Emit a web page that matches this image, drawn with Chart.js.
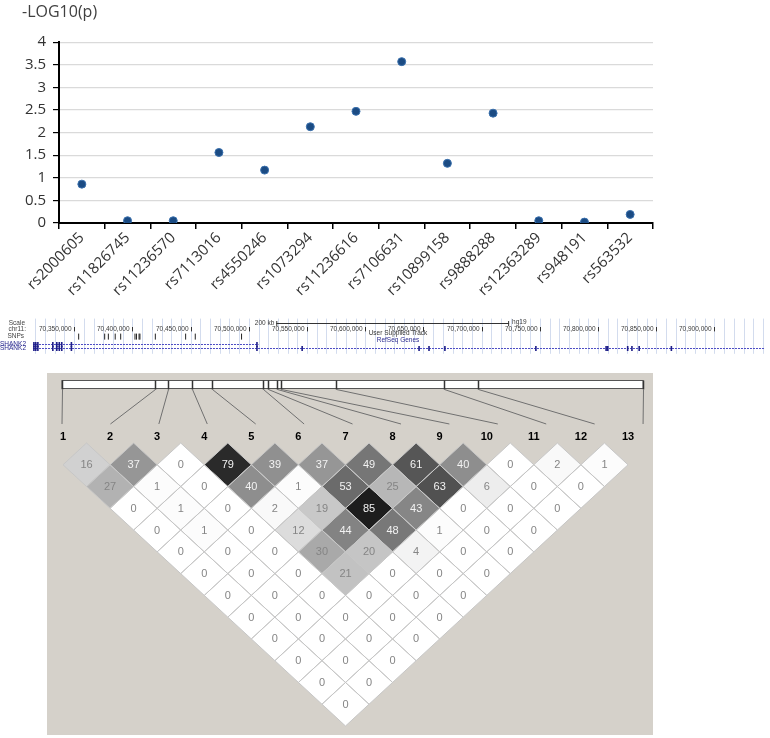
<!DOCTYPE html>
<html>
<head>
<meta charset="utf-8">
<script src="https://cdn.jsdelivr.net/npm/chart.js@4.4.1/dist/chart.umd.min.js"></script>
<style>
  body { margin: 0; background: #fff; width: 770px; height: 738px; position: relative; overflow: hidden; }
  .panel { position: absolute; }
  #ldBox { background: #d5d1ca; }
</style>
</head>
<body>
<div class="panel" style="left:0;top:0;width:770px;height:310px"><canvas id="assoc" width="770" height="310"></canvas></div>
<div class="panel" style="left:0;top:312px;width:770px;height:50px"><canvas id="track" width="770" height="50"></canvas></div>
<div class="panel" id="ldBox" style="left:47px;top:373px;width:606px;height:362px"><canvas id="ld" width="606" height="362"></canvas></div>
<script>
// association plot
const snpNames = ['rs2000605', 'rs11826745', 'rs11236570', 'rs7113016', 'rs4550246', 'rs1073294', 'rs11236616',
  'rs7106631', 'rs10899158', 'rs9888288', 'rs12363289', 'rs948191', 'rs563532'];
const logP = [0.86, 0.05, 0.05, 1.56, 1.17, 2.13, 2.47, 3.57, 1.32, 2.43, 0.05, 0.02, 0.19];
const yTicks = [0, 0.5, 1, 1.5, 2, 2.5, 3, 3.5, 4];

// genome browser strip (hg19, chr11)
const rulerTicks = [70350000, 70400000, 70450000, 70500000, 70550000, 70600000,
  70650000, 70700000, 70750000, 70800000, 70850000, 70900000];
const snpPos = [70353840, 70376190, 70379350, 70385240, 70389930, 70402220, 70403500,
  70405720, 70406480, 70419710, 70445730, 70454010, 70493770];
const shortTxSpan = [70314600, 70508300];
const longTxSpan = [70314600, 70943400];
const shortTxExons = [70315400, 70317000, 70318800, 70331650, 70335070, 70337200, 70339330, 70347610, 70507000];
const longTxExons = [70315400, 70317000, 70318800, 70331650, 70335070, 70337200, 70339330, 70347610, 70507000,
  70545820, 70646250, 70654780, 70668430, 70746590, 70806910, 70808360, 70825430, 70829100, 70835320, 70862970];
const scaleBar = [70523600, 200000];

// pairwise LD (r2 x 100), one array per distance between markers
const ldLabels = ['1', '2', '3', '4', '5', '6', '7', '8', '9', '10', '11', '12', '13'];
const ldRows = [
  [16, 37, 0, 79, 39, 37, 49, 61, 40, 0, 2, 1],
  [27, 1, 0, 40, 1, 53, 25, 63, 6, 0, 0],
  [0, 1, 0, 2, 19, 85, 43, 0, 0, 0],
  [0, 1, 0, 12, 44, 48, 1, 0, 0],
  [0, 0, 0, 30, 20, 4, 0, 0],
  [0, 0, 0, 21, 0, 0, 0],
  [0, 0, 0, 0, 0, 0],
  [0, 0, 0, 0, 0],
  [0, 0, 0, 0],
  [0, 0, 0],
  [0, 0],
  [0]
];

const axisFont = { family: 'Open Sans', size: 15 };

new Chart(document.getElementById('assoc'), {
  type: 'line',
  data: {
    labels: snpNames,
    datasets: [{
      data: logP,
      showLine: false,
      pointRadius: 4,
      pointBackgroundColor: '#1b4b83',
      pointBorderColor: '#3a70ad',
      pointBorderWidth: 1
    }]
  },
  options: {
    responsive: false,
    animation: false,
    layout: { padding: { left: 22, right: 117, top: 0, bottom: 0 } },
    plugins: {
      legend: { display: false },
      tooltip: { enabled: false },
      title: {
        display: true,
        text: '-LOG10(p)',
        align: 'start',
        color: '#404040',
        font: { family: 'Open Sans', size: 16, weight: 'normal' },
        padding: { top: 3, bottom: 20 }
      }
    },
    scales: {
      x: {
        offset: true,
        grid: { offset: true, drawOnChartArea: false, color: '#000', tickLength: 6, lineWidth: 1.5 },
        border: { color: '#000', width: 2 },
        ticks: { autoSkip: false, minRotation: 45, maxRotation: 45, color: '#333', font: axisFont, padding: 0 },
        afterFit: s => { s.height = 87; }
      },
      y: {
        min: 0,
        max: 4,
        afterBuildTicks: ax => { ax.ticks = yTicks.map(v => ({ value: v })); },
        grid: { color: '#dadada', tickColor: '#000', tickLength: 6, lineWidth: 1.2 },
        border: { color: '#000', width: 2 },
        ticks: { color: '#333', font: axisFont, padding: 7, callback: v => String(v) },
        afterFit: s => { s.width = 37; }
      }
    }
  }
});

// genome strip drawn through the x (bp) scale
const GUIDE_STEP = 25000 / 3;
const trackFont = '6.5px "Liberation Sans", Arial, sans-serif';
const trackPlugin = {
  id: 'track',
  beforeDatasetsDraw(chart) {
    const { ctx, chartArea: a, scales: { x, y } } = chart;
    ctx.save();
    ctx.strokeStyle = '#d3dcee';
    ctx.lineWidth = 1;
    for (let v = Math.ceil(x.min / GUIDE_STEP) * GUIDE_STEP; v <= x.max; v += GUIDE_STEP) {
      const px = Math.round(x.getPixelForValue(v)) + 0.5;
      ctx.beginPath();
      ctx.moveTo(px, y.getPixelForValue(2));
      ctx.lineTo(px, y.getPixelForValue(46));
      ctx.stroke();
    }

    // left-hand track names
    ctx.font = trackFont;
    ctx.textAlign = 'right';
    ctx.textBaseline = 'middle';
    ctx.fillStyle = '#444';
    ctx.fillText('Scale', a.left - 6, y.getPixelForValue(8));
    ctx.fillText('chr11:', a.left - 5, y.getPixelForValue(15));
    ctx.fillText('SNPs', a.left - 7, y.getPixelForValue(24.5));
    ctx.fillStyle = '#2a2a90';
    ctx.fillText('SHANK2', a.left - 5, y.getPixelForValue(33.5));
    ctx.fillText('SHANK2', a.left - 5, y.getPixelForValue(39));

    // ruler
    ctx.fillStyle = '#3a3a3a';
    ctx.strokeStyle = '#333';
    rulerTicks.forEach(t => {
      const px = Math.round(x.getPixelForValue(t)) + 0.5;
      ctx.beginPath();
      ctx.moveTo(px, y.getPixelForValue(12.5));
      ctx.lineTo(px, y.getPixelForValue(18));
      ctx.stroke();
      ctx.fillText(t.toLocaleString('en-US'), px - 3, y.getPixelForValue(15.5));
    });

    // scale bar
    const s0 = x.getPixelForValue(scaleBar[0]);
    const s1 = x.getPixelForValue(scaleBar[0] + scaleBar[1]);
    const sy = Math.round(y.getPixelForValue(7.5)) + 0.5;
    ctx.beginPath();
    ctx.moveTo(s0, sy); ctx.lineTo(s1, sy);
    ctx.moveTo(s0 + 0.5, sy - 2.5); ctx.lineTo(s0 + 0.5, sy + 2.5);
    ctx.moveTo(s1 - 0.5, sy - 2.5); ctx.lineTo(s1 - 0.5, sy + 2.5);
    ctx.stroke();
    ctx.fillText('200 kb', s0 - 2, sy);
    ctx.textAlign = 'left';
    ctx.fillText('hg19', s1 + 3, sy - 1);

    // track captions
    const cx = (a.left + a.right) / 2;
    ctx.textAlign = 'center';
    ctx.fillStyle = '#333';
    ctx.fillText('User Supplied Track', cx, y.getPixelForValue(20.5));
    ctx.fillStyle = '#2a2a90';
    ctx.fillText('RefSeq Genes', cx, y.getPixelForValue(29.5));

    // transcripts
    const drawTx = (span, exons, row) => {
      const py = Math.round(y.getPixelForValue(row)) + 0.5;
      ctx.strokeStyle = '#4c4cc4';
      ctx.setLineDash([2, 1]);
      ctx.beginPath();
      ctx.moveTo(x.getPixelForValue(span[0]), py);
      ctx.lineTo(x.getPixelForValue(span[1]), py);
      ctx.stroke();
      ctx.setLineDash([]);
      ctx.fillStyle = '#1e1e88';
      exons.forEach(e => {
        const px = x.getPixelForValue(e);
        ctx.fillRect(px - 0.8, py - 2.5, 1.6, 5);
      });
    };
    drawTx(shortTxSpan, shortTxExons, 33.5);
    drawTx(longTxSpan, longTxExons, 39);
    ctx.restore();
  }
};

new Chart(document.getElementById('track'), {
  type: 'scatter',
  data: {
    datasets: [{
      data: snpPos.map(p => ({ x: p, y: 24.5 })),
      pointStyle: 'line',
      rotation: 90,
      pointRadius: 3,
      borderColor: '#222',
      borderWidth: 1
    }]
  },
  options: {
    responsive: false,
    animation: false,
    layout: { padding: { left: 31, right: 0, top: 0, bottom: 0 } },
    plugins: { legend: { display: false }, tooltip: { enabled: false } },
    scales: {
      x: { type: 'linear', min: 70312900, max: 70943400, display: false },
      y: { type: 'linear', min: 0, max: 50, reverse: true, display: false }
    }
  },
  plugins: [trackPlugin]
});

// LD triangle
const ldCells = [];
ldRows.forEach((row, k) => {
  row.forEach((v, i) => {
    const a = i + 1, b = i + 2 + k;
    ldCells.push({ x: (a + b) / 2, y: b - a, v: v });
  });
});

const BAR_L = 0.979, BAR_R = 13.32;
const shade = v => {
  const g = Math.round(255 * Math.pow(1 - v / 100, 1.15));
  return `rgb(${g},${g},${g})`;
};

const ldPlugin = {
  id: 'ldTriangle',
  afterDraw(chart) {
    const { ctx, scales: { x, y } } = chart;
    ctx.save();

    // marker map bar
    const bx0 = x.getPixelForValue(BAR_L), bx1 = x.getPixelForValue(BAR_R);
    const by0 = Math.round(y.getPixelForValue(-2.894)) + 0.5, by1 = Math.round(y.getPixelForValue(-2.526)) + 0.5;
    ctx.fillStyle = '#fff';
    ctx.fillRect(bx0, by0, bx1 - bx0, by1 - by0);
    ctx.strokeStyle = '#555';
    ctx.lineWidth = 1;
    ctx.strokeRect(bx0, by0, bx1 - bx0, by1 - by0);

    const p0 = snpPos[0], pN = snpPos[snpPos.length - 1];
    const lineEnd = y.getPixelForValue(-0.873);
    snpPos.forEach((p, k) => {
      const tx = Math.round(x.getPixelForValue(BAR_L + (p - p0) / (pN - p0) * (BAR_R - BAR_L))) + 0.5;
      ctx.strokeStyle = '#333';
      ctx.lineWidth = 1.5;
      ctx.beginPath();
      ctx.moveTo(tx, by0);
      ctx.lineTo(tx, by1 + 1);
      ctx.stroke();
      const ex = x.getPixelForValue(BAR_L + k / (snpPos.length - 1) * (BAR_R - BAR_L));
      ctx.strokeStyle = '#707070';
      ctx.lineWidth = 1;
      ctx.beginPath();
      ctx.moveTo(tx, by1 + 1);
      ctx.lineTo(ex, lineEnd);
      ctx.stroke();
    });

    // marker numbers
    ctx.fillStyle = '#000';
    ctx.font = 'bold 11px "Liberation Sans", Arial, sans-serif';
    ctx.textAlign = 'center';
    ctx.textBaseline = 'middle';
    ldLabels.forEach((l, i) => ctx.fillText(l, x.getPixelForValue(i + 1), y.getPixelForValue(-0.276)));

    // diamonds
    const cells = chart.data.datasets[0].data;
    const diamond = c => {
      ctx.beginPath();
      ctx.moveTo(x.getPixelForValue(c.x - 0.5), y.getPixelForValue(c.y));
      ctx.lineTo(x.getPixelForValue(c.x), y.getPixelForValue(c.y - 1));
      ctx.lineTo(x.getPixelForValue(c.x + 0.5), y.getPixelForValue(c.y));
      ctx.lineTo(x.getPixelForValue(c.x), y.getPixelForValue(c.y + 1));
      ctx.closePath();
    };
    cells.forEach(c => {
      diamond(c);
      ctx.fillStyle = shade(c.v);
      ctx.fill();
    });
    ctx.strokeStyle = '#c6c6c6';
    ctx.lineWidth = 1;
    cells.forEach(c => { diamond(c); ctx.stroke(); });

    ctx.font = '11px "Liberation Sans", Arial, sans-serif';
    cells.forEach(c => {
      ctx.fillStyle = c.v >= 35 ? '#f2f2f2' : '#858585';
      ctx.fillText(String(c.v), x.getPixelForValue(c.x), y.getPixelForValue(c.y) + 0.5);
    });
    ctx.restore();
  }
};

new Chart(document.getElementById('ld'), {
  type: 'scatter',
  data: { datasets: [{ data: ldCells, pointRadius: 0 }] },
  options: {
    responsive: false,
    animation: false,
    layout: { padding: { left: 16, right: 25, top: 70, bottom: 9 } },
    plugins: { legend: { display: false }, tooltip: { enabled: false } },
    scales: {
      x: { type: 'linear', min: 1, max: 13, display: false },
      y: { type: 'linear', min: 0, max: 13, reverse: true, display: false }
    }
  },
  plugins: [ldPlugin]
});
</script>
</body>
</html>
